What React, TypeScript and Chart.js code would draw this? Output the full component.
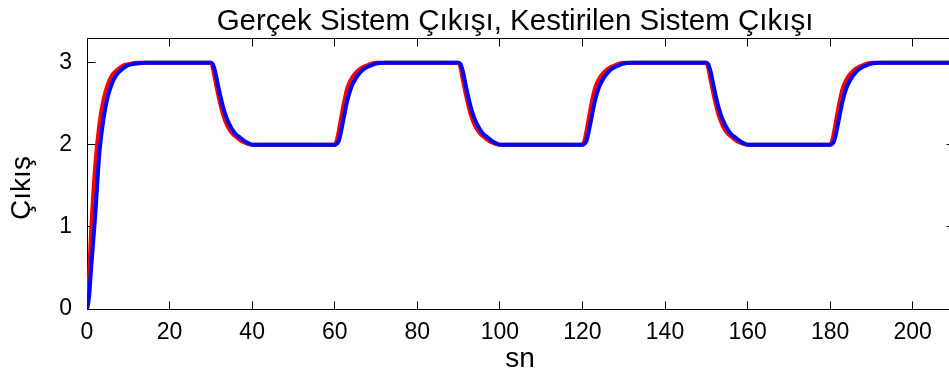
import React, { useEffect, useRef } from 'react';
import { Chart, registerables } from 'chart.js';

Chart.register(...registerables);

const chartTitle = 'Gerçek Sistem Çıkışı, Kestirilen Sistem Çıkışı';
const xAxisTitle = 'sn';
const yAxisTitle = 'Çıkış';

const xTickValues = [0, 20, 40, 60, 80, 100, 120, 140, 160, 180, 200];
const yTickValues = [0, 1, 2, 3];

// time (s)
const time = [
  0, 0.5, 1, 2, 3, 4, 5, 6, 7, 8, 9, 10, 12, 14,
  30, 30.5, 31, 32, 33, 34, 35, 36, 37, 38, 39, 40, 42,
  60, 60.5, 61, 62, 63, 64, 65, 66, 67, 68, 69, 70, 72,
  90, 90.5, 91, 92, 93, 94, 95, 96, 97, 98, 99, 100, 102,
  120, 120.5, 121, 122, 123, 124, 125, 126, 127, 128, 129, 130, 132,
  150, 150.5, 151, 152, 153, 154, 155, 156, 157, 158, 159, 160, 162,
  180, 180.5, 181, 182, 183, 184, 185, 186, 187, 188, 189, 190, 192,
  212,
];

// Gerçek sistem çıkışı (red)
const realOutput = [
  0, 0.4, 0.95, 1.75, 2.25, 2.55, 2.73, 2.84, 2.9, 2.94, 2.97, 2.98, 3.0, 3.0,
  3.0, 2.93, 2.8, 2.56, 2.36, 2.23, 2.15, 2.1, 2.06, 2.03, 2.01, 2.0, 2.0,
  2.0, 2.05, 2.17, 2.45, 2.68, 2.8, 2.87, 2.92, 2.95, 2.97, 2.99, 3.0, 3.0,
  3.0, 2.93, 2.8, 2.56, 2.36, 2.23, 2.15, 2.1, 2.06, 2.03, 2.01, 2.0, 2.0,
  2.0, 2.05, 2.17, 2.45, 2.68, 2.8, 2.87, 2.92, 2.95, 2.97, 2.99, 3.0, 3.0,
  3.0, 2.93, 2.8, 2.56, 2.36, 2.23, 2.15, 2.1, 2.06, 2.03, 2.01, 2.0, 2.0,
  2.0, 2.05, 2.17, 2.45, 2.68, 2.8, 2.87, 2.92, 2.95, 2.97, 2.99, 3.0, 3.0,
  3.0,
];

// Kestirilen sistem çıkışı (blue)
const estimatedOutput = [
  0, 0.15, 0.5, 1.15, 1.9, 2.32, 2.58, 2.74, 2.84, 2.9, 2.94, 2.97, 2.99, 3.0,
  3.0, 2.98, 2.9, 2.66, 2.45, 2.3, 2.2, 2.13, 2.09, 2.05, 2.02, 2.0, 2.0,
  2.0, 2.01, 2.05, 2.28, 2.53, 2.7, 2.8, 2.87, 2.92, 2.95, 2.97, 2.99, 3.0,
  3.0, 2.98, 2.9, 2.66, 2.45, 2.3, 2.2, 2.13, 2.09, 2.05, 2.02, 2.0, 2.0,
  2.0, 2.01, 2.05, 2.28, 2.53, 2.7, 2.8, 2.87, 2.92, 2.95, 2.97, 2.99, 3.0,
  3.0, 2.98, 2.9, 2.66, 2.45, 2.3, 2.2, 2.13, 2.09, 2.05, 2.02, 2.0, 2.0,
  2.0, 2.01, 2.05, 2.28, 2.53, 2.7, 2.8, 2.87, 2.92, 2.95, 2.97, 2.99, 3.0,
  3.0,
];

const FONT = '"Liberation Sans", Arial, Helvetica, sans-serif';

const framePlugin = {
  id: 'matlabFrame',
  beforeDatasetsDraw(chart: any) {
    const { ctx, chartArea, scales } = chart;
    const { left, right, top, bottom } = chartArea;
    const x = scales.x;
    const y = scales.y;
    const snap = (v: number) => Math.round(v - 0.5) + 0.5;
    const L = snap(left), R = snap(right), T = snap(top), B = snap(bottom);
    const tickLen = 8;
    ctx.save();
    ctx.strokeStyle = '#000';
    ctx.lineWidth = 1;
    ctx.beginPath();
    ctx.rect(L, T, R - L, B - T);
    for (const v of xTickValues) {
      const px = snap(x.getPixelForValue(v));
      ctx.moveTo(px, B);
      ctx.lineTo(px, B - tickLen);
      ctx.moveTo(px, T);
      ctx.lineTo(px, T + tickLen);
    }
    for (const v of yTickValues) {
      const py = snap(y.getPixelForValue(v));
      ctx.moveTo(L, py);
      ctx.lineTo(L + tickLen, py);
      ctx.moveTo(R, py);
      ctx.lineTo(R - tickLen, py);
    }
    ctx.stroke();
    ctx.restore();
  },
  afterDraw(chart: any) {
    const { ctx } = chart;
    ctx.save();
    ctx.fillStyle = '#000';
    ctx.textAlign = 'center';
    ctx.textBaseline = 'alphabetic';
    ctx.font = `29.5px ${FONT}`;
    ctx.fillText(chartTitle, 515, 30);
    ctx.font = `28px ${FONT}`;
    ctx.fillText(xAxisTitle, 520, 367);
    ctx.translate(30, 188);
    ctx.rotate(-Math.PI / 2);
    ctx.fillText(yAxisTitle, 0, 0);
    ctx.restore();
  },
};

export default function App() {
  const ref = useRef<HTMLCanvasElement>(null);

  useEffect(() => {
    const canvas = ref.current;
    if (!canvas) return;
    const chart = new Chart(canvas, {
      type: 'line',
      data: {
        labels: time,
        datasets: [
          {
            label: 'Kestirilen Sistem Çıkışı',
            data: time.map((t, i) => ({ x: t, y: estimatedOutput[i] })),
            borderColor: '#0000ff',
            backgroundColor: '#0000ff',
            borderWidth: 4,
            pointRadius: 0,
            cubicInterpolationMode: 'monotone',
            borderJoinStyle: 'round',
            borderCapStyle: 'round',
            fill: false,
          },
          {
            label: 'Gerçek Sistem Çıkışı',
            data: time.map((t, i) => ({ x: t, y: realOutput[i] })),
            borderColor: '#ff0000',
            backgroundColor: '#ff0000',
            borderWidth: 4,
            pointRadius: 0,
            cubicInterpolationMode: 'monotone',
            borderJoinStyle: 'round',
            borderCapStyle: 'round',
            fill: false,
          },
        ],
      },
      options: {
        animation: false,
        responsive: false,
        maintainAspectRatio: false,
        devicePixelRatio: 1,
        layout: { padding: { left: 0, right: 6, top: 38, bottom: 0 } },
        plugins: {
          legend: { display: false },
          tooltip: { enabled: false },
          title: { display: false },
        },
        scales: {
          x: {
            type: 'linear',
            min: 0,
            max: 210,
            afterBuildTicks: (s: any) => {
              s.ticks = xTickValues.map((v) => ({ value: v }));
            },
            afterFit: (s: any) => {
              s.height = 65;
            },
            grid: { display: false },
            border: { display: false },
            ticks: {
              color: '#000',
              font: { family: FONT, size: 23 },
              padding: 2,
              maxRotation: 0,
              autoSkip: false,
            },
          },
          y: {
            type: 'linear',
            min: 0,
            max: 3.3,
            afterBuildTicks: (s: any) => {
              s.ticks = yTickValues.map((v) => ({ value: v }));
            },
            afterFit: (s: any) => {
              s.width = 87;
            },
            grid: { display: false },
            border: { display: false },
            ticks: {
              color: '#000',
              font: { family: FONT, size: 23 },
              padding: 7,
              autoSkip: false,
            },
          },
        },
      },
      plugins: [framePlugin],
    } as any);
    return () => chart.destroy();
  }, []);

  return (
    <div
      style={{
        position: 'fixed',
        left: 0,
        top: 0,
        width: 949,
        height: 374,
        overflow: 'hidden',
        background: '#fff',
      }}
    >
      <canvas ref={ref} width={960} height={374} style={{ display: 'block', width: 960, height: 374 }} />
    </div>
  );
}
